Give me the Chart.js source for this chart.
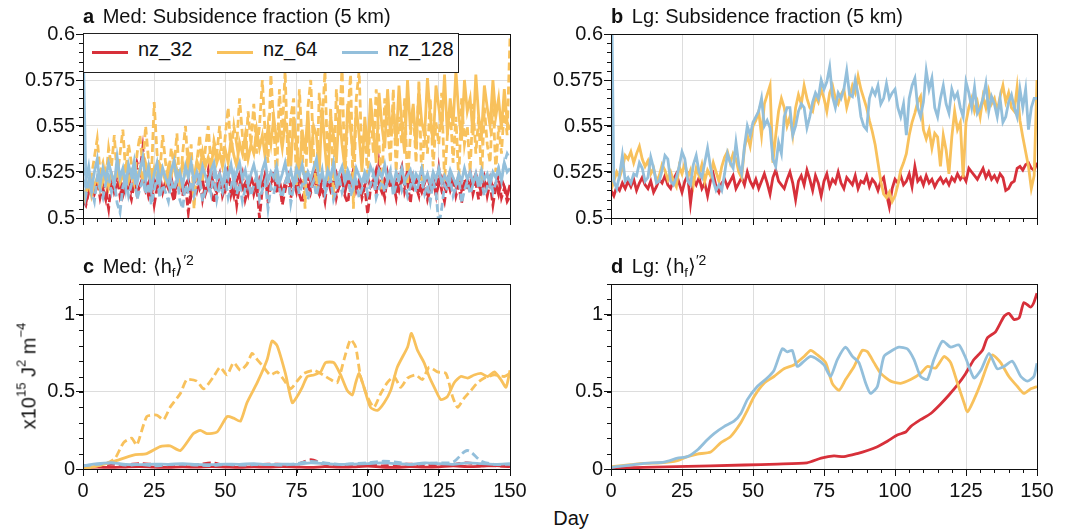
<!DOCTYPE html>
<html>
<head>
<meta charset="utf-8">
<title>Subsidence fraction and hf variance</title>
<script src="https://cdn.jsdelivr.net/npm/chart.js@4.4.1/dist/chart.umd.min.js"></script>
<style>
  body { margin: 0; background: #fff; }
  #fig {
    position: relative; width: 1088px; height: 530px; overflow: hidden;
    font-family: "Liberation Sans", Arial, Helvetica, sans-serif; color: #111;
  }
  #fig canvas { position: absolute; }
  .ttl { position: absolute; font-size: 20px; line-height: 20px; white-space: nowrap; }
  .ttl b { margin-right: 3px; }
  .sb { font-size: 13px; position: relative; top: 4px; }
  .sp { font-size: 14px; position: relative; top: -8px; }
  #legend {
    position: absolute; left: 83px; top: 33px; width: 374px; height: 38px;
    border: 1px solid #222; background: #fff; z-index: 2;
  }
  #legend .sw { position: absolute; top: 17px; width: 36px; height: 3px; }
  #legend .lb { position: absolute; top: 5px; font-size: 20px; line-height: 20px; }
  #ylab {
    position: absolute; left: 29px; top: 376px; font-size: 20px; white-space: nowrap;
    transform: translate(-50%, -50%) rotate(-90deg);
  }
  #ylab sup { font-size: 13px; position: relative; top: -2px; vertical-align: super; line-height: 0; }
  #xlab { position: absolute; left: 571px; top: 518px; font-size: 20px; transform: translate(-50%, -50%); }
</style>
</head>
<body>
<div id="fig">
  <canvas id="chartA" width="520" height="210" style="left:10px;top:21px"></canvas>
  <canvas id="chartB" width="519" height="210" style="left:538px;top:21px"></canvas>
  <canvas id="chartC" width="520" height="233" style="left:10px;top:271px"></canvas>
  <canvas id="chartD" width="519" height="233" style="left:538px;top:271px"></canvas>

  <div class="ttl" style="left:83px;top:6px"><b>a</b> Med: Subsidence fraction (5 km)</div>
  <div class="ttl" style="left:611px;top:6px"><b>b</b> Lg: Subsidence fraction (5 km)</div>
  <div class="ttl" style="left:83px;top:256px"><b>c</b> Med: ⟨h<span class="sb">f</span>⟩<span class="sp">′2</span></div>
  <div class="ttl" style="left:611px;top:256px"><b>d</b> Lg: ⟨h<span class="sb">f</span>⟩<span class="sp">′2</span></div>

  <div id="legend">
    <span class="sw" style="left:8px;background:#d7303a"></span><span class="lb" style="left:54px">nz_32</span>
    <span class="sw" style="left:133px;background:#f8c15c"></span><span class="lb" style="left:179px">nz_64</span>
    <span class="sw" style="left:258px;background:#93bfdb"></span><span class="lb" style="left:304px">nz_128</span>
  </div>

  <div id="ylab">x10<sup>15</sup> J<sup>2</sup> m<sup>−4</sup></div>
  <div id="xlab">Day</div>
</div>

<script>
/* ======================================
   COLOURS
====================================== */
const RED = "#d7303a";
const ORANGE = "#f8c15c";
const BLUE = "#93bfdb";


/* ======================================
   DATA  (panels a, b: one value per day, day 0..150)
====================================== */
const days = Array.from({ length: 151 }, (_, i) => i);

// a  Med: subsidence fraction, solid and dashed runs
const aRed32 = [
  0.512,0.508,0.515,0.52,0.513,0.518,0.522,0.516,0.51,0.519,
  0.523,0.514,0.518,0.521,0.512,0.517,0.524,0.515,0.52,0.513,
  0.518,0.522,0.515,0.519,0.512,0.521,0.517,0.523,0.514,0.52,
  0.516,0.522,0.513,0.519,0.524,0.515,0.518,0.521,0.512,0.519,
  0.523,0.516,0.52,0.513,0.518,0.525,0.517,0.514,0.521,0.518,
  0.515,0.522,0.518,0.512,0.52,0.524,0.516,0.519,0.513,0.522,
  0.518,0.514,0.521,0.517,0.524,0.515,0.519,0.522,0.516,0.52,
  0.513,0.519,0.523,0.517,0.52,0.514,0.522,0.518,0.521,0.516,
  0.52,0.524,0.517,0.513,0.521,0.518,0.522,0.515,0.519,0.524,
  0.517,0.52,0.514,0.521,0.518,0.524,0.516,0.52,0.513,0.518,
  0.522,0.517,0.52,0.526,0.518,0.514,0.521,0.519,0.523,0.516,
  0.52,0.515,0.522,0.518,0.526,0.519,0.516,0.521,0.518,0.514,
  0.519,0.523,0.516,0.52,0.513,0.518,0.522,0.517,0.521,0.515,
  0.52,0.517,0.523,0.515,0.519,0.521,0.516,0.52,0.524,0.518,
  0.514,0.52,0.517,0.522,0.516,0.519,0.513,0.521,0.517,0.512,
  0.518
];
const aRed32Dash = [
  0.51,0.507,0.514,0.519,0.516,0.521,0.511,0.518,0.514,0.505,
  0.52,0.516,0.523,0.512,0.518,0.521,0.515,0.51,0.519,0.53,
  0.525,0.538,0.52,0.512,0.518,0.507,0.516,0.522,0.513,0.519,
  0.527,0.515,0.509,0.52,0.524,0.512,0.518,0.503,0.516,0.522,
  0.515,0.523,0.51,0.518,0.526,0.514,0.508,0.519,0.524,0.512,
  0.517,0.529,0.513,0.52,0.507,0.518,0.524,0.51,0.516,0.522,
  0.513,0.519,0.5,0.516,0.523,0.509,0.518,0.526,0.513,0.52,
  0.507,0.515,0.522,0.511,0.519,0.525,0.513,0.508,0.518,0.523,
  0.514,0.52,0.527,0.512,0.517,0.509,0.522,0.516,0.525,0.511,
  0.518,0.523,0.512,0.508,0.519,0.526,0.515,0.52,0.511,0.517,
  0.502,0.516,0.521,0.513,0.53,0.518,0.511,0.524,0.516,0.519,
  0.511,0.523,0.528,0.514,0.519,0.508,0.522,0.517,0.512,0.525,
  0.518,0.51,0.516,0.522,0.513,0.527,0.515,0.509,0.52,0.516,
  0.523,0.512,0.518,0.508,0.521,0.515,0.525,0.513,0.519,0.51,
  0.516,0.522,0.512,0.519,0.507,0.517,0.523,0.511,0.516,0.509,
  0.512
];
const aOrg64 = [
  0.51,0.515,0.52,0.512,0.518,0.522,0.515,0.52,0.526,0.517,
  0.524,0.52,0.527,0.519,0.523,0.528,0.52,0.525,0.519,0.522,
  0.527,0.521,0.53,0.524,0.519,0.527,0.522,0.529,0.525,0.52,
  0.528,0.523,0.532,0.526,0.521,0.53,0.525,0.535,0.527,0.522,
  0.531,0.526,0.536,0.528,0.533,0.527,0.54,0.53,0.535,0.528,
  0.537,0.53,0.543,0.534,0.528,0.541,0.535,0.545,0.532,0.54,
  0.535,0.548,0.538,0.545,0.533,0.55,0.54,0.555,0.542,0.548,
  0.538,0.552,0.545,0.528,0.555,0.54,0.522,0.548,0.535,0.558,
  0.53,0.55,0.545,0.525,0.56,0.538,0.52,0.555,0.545,0.53,
  0.558,0.54,0.527,0.562,0.548,0.532,0.56,0.545,0.525,0.555,
  0.535,0.565,0.548,0.53,0.568,0.55,0.538,0.57,0.545,0.56,
  0.54,0.572,0.55,0.535,0.575,0.548,0.562,0.538,0.57,0.552,
  0.545,0.576,0.555,0.54,0.572,0.56,0.548,0.578,0.545,0.565,
  0.55,0.58,0.556,0.542,0.575,0.558,0.565,0.545,0.578,0.555,
  0.545,0.572,0.56,0.55,0.575,0.555,0.565,0.548,0.57,0.552,
  0.548
];
const aOrg64Dash = [
  0.508,0.513,0.518,0.523,0.533,0.543,0.525,0.53,0.52,0.538,
  0.528,0.545,0.522,0.535,0.548,0.525,0.54,0.53,0.52,0.535,
  0.545,0.528,0.55,0.532,0.52,0.563,0.535,0.525,0.545,0.53,
  0.52,0.538,0.528,0.546,0.515,0.535,0.55,0.525,0.54,0.505,
  0.53,0.545,0.52,0.538,0.55,0.527,0.542,0.535,0.55,0.528,
  0.545,0.56,0.535,0.55,0.54,0.565,0.545,0.53,0.558,0.54,
  0.562,0.535,0.55,0.575,0.545,0.53,0.578,0.55,0.52,0.57,
  0.545,0.58,0.528,0.555,0.565,0.518,0.57,0.54,0.505,0.56,
  0.575,0.535,0.515,0.568,0.55,0.58,0.525,0.56,0.51,0.57,
  0.545,0.583,0.52,0.555,0.578,0.505,0.565,0.58,0.53,0.55,
  0.52,0.56,0.535,0.57,0.54,0.515,0.565,0.55,0.53,0.57,
  0.525,0.555,0.54,0.565,0.518,0.545,0.56,0.53,0.575,0.52,
  0.55,0.535,0.565,0.528,0.552,0.54,0.568,0.52,0.545,0.56,
  0.53,0.555,0.52,0.565,0.54,0.55,0.525,0.562,0.535,0.555,
  0.52,0.56,0.54,0.53,0.565,0.525,0.55,0.535,0.56,0.545,
  0.598
];
const aBlue128 = [
  0.6,0.52,0.528,0.515,0.525,0.532,0.518,0.527,0.521,0.53,
  0.524,0.518,0.533,0.522,0.527,0.516,0.529,0.523,0.531,0.519,
  0.526,0.533,0.52,0.528,0.515,0.524,0.53,0.519,0.527,0.522,
  0.518,0.526,0.531,0.52,0.525,0.517,0.528,0.522,0.53,0.519,
  0.525,0.52,0.528,0.523,0.517,0.526,0.53,0.521,0.524,0.518,
  0.527,0.522,0.529,0.519,0.525,0.53,0.521,0.526,0.518,0.524,
  0.529,0.522,0.517,0.526,0.531,0.52,0.525,0.522,0.528,0.519,
  0.524,0.53,0.521,0.526,0.518,0.527,0.523,0.529,0.52,0.525,
  0.521,0.527,0.532,0.52,0.525,0.518,0.526,0.522,0.53,0.519,
  0.524,0.528,0.52,0.526,0.522,0.517,0.527,0.523,0.519,0.525,
  0.521,0.528,0.524,0.519,0.526,0.522,0.529,0.52,0.524,0.518,
  0.525,0.521,0.527,0.52,0.523,0.526,0.519,0.524,0.521,0.527,
  0.52,0.524,0.518,0.525,0.521,0.527,0.519,0.523,0.52,0.526,
  0.522,0.518,0.524,0.52,0.527,0.521,0.525,0.519,0.523,0.52,
  0.526,0.521,0.524,0.518,0.525,0.522,0.527,0.52,0.53,0.525,
  0.527
];
const aBlue128Dash = [
  0.56,0.512,0.52,0.515,0.509,0.522,0.516,0.511,0.519,0.523,
  0.514,0.52,0.508,0.503,0.517,0.522,0.512,0.518,0.525,0.51,
  0.516,0.521,0.513,0.519,0.507,0.515,0.522,0.511,0.518,0.514,
  0.509,0.52,0.515,0.523,0.51,0.505,0.518,0.513,0.52,0.512,
  0.517,0.522,0.509,0.515,0.52,0.513,0.524,0.51,0.518,0.514,
  0.522,0.511,0.517,0.524,0.513,0.519,0.509,0.516,0.521,0.512,
  0.518,0.523,0.51,0.515,0.52,0.505,0.517,0.513,0.521,0.516,
  0.511,0.519,0.524,0.508,0.517,0.521,0.513,0.518,0.522,0.51,
  0.516,0.52,0.512,0.519,0.526,0.513,0.518,0.521,0.51,0.515,
  0.522,0.514,0.519,0.525,0.512,0.517,0.52,0.511,0.516,0.521,
  0.513,0.518,0.524,0.511,0.516,0.52,0.514,0.521,0.526,0.512,
  0.518,0.522,0.515,0.52,0.512,0.517,0.523,0.514,0.519,0.521,
  0.513,0.518,0.509,0.52,0.514,0.496,0.505,0.518,0.515,0.521,
  0.512,0.517,0.522,0.508,0.515,0.52,0.513,0.518,0.524,0.516,
  0.52,0.512,0.517,0.522,0.514,0.519,0.527,0.522,0.53,0.535,
  0.532
];

// b  Lg: subsidence fraction
const bRed32 = [
  0.515,0.512,0.517,0.515,0.519,0.516,0.52,0.517,0.521,0.515,
  0.519,0.522,0.518,0.516,0.52,0.514,0.517,0.521,0.519,0.523,
  0.518,0.516,0.521,0.524,0.519,0.514,0.52,0.523,0.508,0.521,
  0.518,0.522,0.516,0.519,0.512,0.52,0.524,0.517,0.514,0.519,
  0.521,0.517,0.52,0.523,0.516,0.519,0.522,0.518,0.525,0.52,
  0.517,0.521,0.516,0.52,0.524,0.519,0.513,0.522,0.526,0.52,
  0.518,0.516,0.521,0.525,0.519,0.51,0.52,0.523,0.518,0.526,
  0.521,0.515,0.523,0.519,0.512,0.52,0.524,0.517,0.521,0.519,
  0.525,0.519,0.516,0.522,0.52,0.518,0.523,0.516,0.52,0.519,
  0.523,0.517,0.521,0.519,0.515,0.52,0.522,0.513,0.506,0.516,
  0.521,0.519,0.523,0.518,0.52,0.524,0.517,0.528,0.52,0.522,
  0.518,0.523,0.519,0.521,0.517,0.52,0.522,0.519,0.521,0.518,
  0.522,0.52,0.524,0.521,0.523,0.52,0.527,0.525,0.523,0.521,
  0.524,0.527,0.522,0.525,0.521,0.523,0.52,0.524,0.522,0.515,
  0.516,0.519,0.52,0.527,0.528,0.526,0.529,0.53,0.527,0.526,
  0.53
];
const bOrg64 = [
  0.515,0.52,0.525,0.522,0.527,0.534,0.532,0.536,0.53,0.535,
  0.539,0.532,0.528,0.531,0.524,0.527,0.52,0.523,0.529,0.526,
  0.521,0.525,0.52,0.517,0.528,0.524,0.53,0.522,0.526,0.518,
  0.527,0.523,0.529,0.52,0.526,0.523,0.53,0.525,0.52,0.528,
  0.533,0.536,0.53,0.535,0.532,0.525,0.522,0.538,0.545,0.539,
  0.55,0.553,0.558,0.545,0.562,0.567,0.572,0.53,0.545,0.558,
  0.565,0.56,0.55,0.555,0.545,0.56,0.567,0.562,0.572,0.565,
  0.56,0.558,0.566,0.563,0.57,0.565,0.558,0.568,0.572,0.565,
  0.562,0.567,0.57,0.56,0.566,0.572,0.568,0.577,0.57,0.565,
  0.56,0.553,0.547,0.54,0.53,0.52,0.513,0.511,0.514,0.509,
  0.512,0.518,0.526,0.53,0.535,0.545,0.552,0.557,0.563,0.566,
  0.548,0.543,0.548,0.538,0.546,0.544,0.528,0.545,0.537,0.524,
  0.544,0.558,0.548,0.552,0.522,0.552,0.56,0.565,0.558,0.563,
  0.555,0.566,0.56,0.569,0.562,0.565,0.558,0.566,0.572,0.563,
  0.568,0.56,0.558,0.571,0.553,0.544,0.536,0.528,0.516,0.523,
  0.575
];
const bBlue128 = [
  0.65,0.52,0.516,0.523,0.534,0.52,0.522,0.519,0.524,0.523,
  0.53,0.527,0.52,0.522,0.533,0.527,0.519,0.52,0.526,0.534,
  0.532,0.52,0.518,0.522,0.528,0.536,0.532,0.52,0.518,0.529,
  0.534,0.525,0.522,0.53,0.538,0.528,0.52,0.515,0.518,0.515,
  0.524,0.535,0.53,0.527,0.541,0.529,0.524,0.539,0.55,0.545,
  0.552,0.555,0.558,0.565,0.55,0.553,0.549,0.532,0.528,0.541,
  0.535,0.555,0.56,0.56,0.545,0.55,0.558,0.562,0.56,0.549,
  0.555,0.563,0.568,0.565,0.575,0.57,0.574,0.582,0.566,0.56,
  0.568,0.565,0.57,0.58,0.567,0.566,0.575,0.567,0.555,0.55,
  0.548,0.565,0.57,0.567,0.572,0.562,0.565,0.573,0.565,0.568,
  0.57,0.56,0.555,0.562,0.545,0.565,0.572,0.576,0.56,0.555,
  0.563,0.58,0.57,0.576,0.56,0.555,0.565,0.572,0.562,0.557,
  0.57,0.565,0.568,0.56,0.555,0.574,0.568,0.56,0.571,0.557,
  0.56,0.565,0.573,0.558,0.566,0.562,0.555,0.565,0.552,0.555,
  0.563,0.567,0.56,0.555,0.57,0.56,0.57,0.548,0.56,0.565,
  0.565
];


/* ======================================
   DATA  (panels c, d: <hf>'2, x10^15 J2 m-4)
====================================== */
const cDays5 = [0,5,10,15,20,25,30,35,40,45,50,55,60,65,70,75,80,85,90,95,100,105,110,115,120,125,130,135,140,145,150];
const cRed32     = [0.01,0.012,0.01,0.013,0.015,0.012,0.01,0.014,0.012,0.015,0.013,0.011,0.014,0.012,0.016,0.013,0.01,0.015,0.012,0.014,0.018,0.013,0.011,0.015,0.012,0.014,0.02,0.016,0.018,0.022,0.015];
const cRed32Dash = [0.02,0.025,0.03,0.028,0.035,0.03,0.026,0.03,0.028,0.04,0.025,0.03,0.027,0.032,0.03,0.029,0.06,0.03,0.028,0.025,0.03,0.02,0.028,0.032,0.025,0.03,0.03,0.04,0.025,0.02,0.018];
const cBlue128     = [0.02,0.035,0.04,0.03,0.028,0.032,0.03,0.035,0.03,0.028,0.032,0.03,0.035,0.028,0.032,0.03,0.04,0.035,0.03,0.032,0.035,0.04,0.035,0.03,0.04,0.035,0.03,0.04,0.035,0.03,0.035];
const cBlue128Dash = [0.02,0.03,0.04,0.025,0.03,0.02,0.028,0.03,0.025,0.022,0.03,0.025,0.028,0.03,0.025,0.035,0.05,0.04,0.03,0.035,0.04,0.05,0.045,0.03,0.035,0.04,0.045,0.12,0.05,0.03,0.03];

const cOrgDays = [0,5,10.7,17.7,22.4,27.1,30.6,34.2,38.8,41.2,43.5,47.1,50.6,52.9,55.3,57.6,61.2,64.7,66.4,68.2,71.1,73.5,75.2,77,78.8,81.1,83.5,85.2,88.1,90.5,92.8,94.6,95.8,97,98.7,101,103.4,105.8,108.1,110.4,114,115.4,117.5,119.8,121.6,123.4,125.7,128,130.4,132.7,135.1,137.4,139.8,142.1,144.5,146.8,148.6,150];
const cOrg64   = [0,0.02,0.048,0.09,0.1,0.145,0.15,0.12,0.23,0.25,0.23,0.24,0.34,0.33,0.31,0.43,0.56,0.71,0.83,0.8,0.62,0.43,0.47,0.53,0.6,0.61,0.63,0.69,0.69,0.61,0.51,0.48,0.56,0.62,0.53,0.4,0.38,0.43,0.51,0.66,0.79,0.88,0.77,0.69,0.6,0.53,0.45,0.47,0.56,0.6,0.59,0.61,0.62,0.6,0.63,0.58,0.53,0.64];

const cOrgDashDays = [0,5,8.3,11.3,14.2,17.1,18.9,22.4,25.9,28.3,30.6,34.2,36.5,40,42.4,45.9,48.2,50.6,52.9,55.3,57.6,59.4,61.2,63.5,65.8,68.2,70.5,72.9,75.2,77.6,81.1,83.5,87,89.3,91.7,94,95.8,97.5,99.9,102.2,104.6,106.9,109.3,111.6,114,116.9,119.2,121.6,124.5,127.5,129.8,131.6,133.9,136.3,138.6,141,144.5,148,150];
const cOrg64Dash   = [0,0.02,0.037,0.07,0.17,0.2,0.155,0.34,0.35,0.32,0.4,0.49,0.58,0.57,0.52,0.6,0.66,0.61,0.69,0.64,0.68,0.75,0.71,0.66,0.61,0.63,0.58,0.52,0.57,0.62,0.64,0.62,0.58,0.56,0.71,0.84,0.79,0.6,0.47,0.4,0.49,0.56,0.6,0.53,0.59,0.61,0.58,0.66,0.63,0.62,0.47,0.4,0.46,0.51,0.56,0.59,0.61,0.6,0.62];

const dRedDays = [0,23,47,58.6,69,74,78.5,82,86.7,90.3,93.8,97.3,100.8,103.8,105.5,109,112.6,116,119,122,124.9,127.8,130.8,132.5,135.4,138.4,140.1,141.9,143.7,145.4,147.8,148.9,150];
const dRed32   = [0.005,0.015,0.026,0.032,0.04,0.07,0.085,0.08,0.1,0.12,0.145,0.18,0.22,0.24,0.275,0.32,0.36,0.42,0.48,0.545,0.62,0.71,0.77,0.85,0.89,0.99,1.01,0.97,0.98,1.08,1.05,1.08,1.14];

const dOrgDays = [0,11.6,17.5,23.4,26.9,30.4,35.1,38.6,42.1,45.7,48,50.4,53.9,57.4,60.9,64.4,68,70.3,72.7,75.6,77.9,80.3,82.6,85.6,88.5,90.3,92.6,95,98.5,102,105.5,109,111.4,114.3,117.3,119.6,122,124.3,125.5,127.8,130.2,132.5,134.3,137.2,140.1,143.1,145.4,147.8,150];
const dOrg64   = [0.015,0.037,0.04,0.054,0.08,0.097,0.11,0.17,0.21,0.3,0.38,0.47,0.556,0.6,0.65,0.675,0.73,0.77,0.74,0.69,0.556,0.51,0.58,0.665,0.77,0.76,0.69,0.62,0.57,0.556,0.58,0.62,0.665,0.655,0.73,0.69,0.556,0.43,0.37,0.45,0.556,0.675,0.74,0.69,0.6,0.535,0.49,0.52,0.535];

const dBlueDays = [0,11.6,18.7,23.4,26.9,30.4,33.9,36.3,39.8,43.3,45.7,48,51.5,55,57.4,60.3,62.1,63.8,65.6,68,70.3,72.7,75,77.3,79.7,82.6,85,87.3,89.7,91.4,93.8,96.1,99.1,101.4,104.3,106.7,109,111.4,113.7,116.7,119.6,122.5,124.9,127.8,130.2,133.1,136,138.4,141.3,144.3,146.6,148.9,150];
const dBlue128  = [0.01,0.037,0.045,0.07,0.08,0.123,0.19,0.23,0.275,0.31,0.36,0.45,0.535,0.59,0.64,0.78,0.76,0.77,0.665,0.7,0.73,0.71,0.675,0.6,0.71,0.79,0.73,0.69,0.556,0.49,0.535,0.73,0.77,0.79,0.78,0.71,0.6,0.58,0.71,0.83,0.79,0.805,0.72,0.59,0.64,0.75,0.65,0.665,0.7,0.6,0.57,0.6,0.686];


/* ======================================
   DEFAULTS
====================================== */
Chart.defaults.font.family = '"Liberation Sans", Arial, Helvetica, sans-serif';
Chart.defaults.font.size = 20;
Chart.defaults.color = "#111";

const GRID = { color: "#dddddd", lineWidth: 1, tickColor: "#111", tickLength: 7, drawTicks: true };
const BORDER = { display: true, color: "#111", width: 1 };


/* ======================================
   FRAME + MINOR TICKS
====================================== */
const framePlugin = {
  id: "frame",
  afterDraw(chart, args, opts) {
    const { ctx, chartArea: a, scales } = chart;
    const xs = scales.x, ys = scales.y;
    ctx.save();
    ctx.strokeStyle = "#111";
    ctx.lineWidth = 1;
    ctx.beginPath();
    for (let v = xs.min; v <= xs.max + 1e-9; v += opts.xMinor) {
      const p = Math.round(xs.getPixelForValue(v)) + 0.5;
      ctx.moveTo(p, a.bottom);
      ctx.lineTo(p, a.bottom + 4);
    }
    for (let v = ys.min; v <= ys.max + 1e-9; v += opts.yMinor) {
      const p = Math.round(ys.getPixelForValue(v)) + 0.5;
      ctx.moveTo(a.left - 4, p);
      ctx.lineTo(a.left, p);
    }
    ctx.stroke();
    ctx.strokeRect(Math.round(a.left) + 0.5, Math.round(a.top) + 0.5,
                   Math.round(a.right - a.left), Math.round(a.bottom - a.top));
    ctx.restore();
  }
};


/* ======================================
   HELPERS
====================================== */
function series(xs, ys, color, dashed, tension) {
  return {
    data: xs.map((x, i) => ({ x, y: ys[i] })),
    borderColor: color,
    borderWidth: 2.8,
    borderDash: dashed ? [8, 4] : [],
    pointRadius: 0,
    fill: false,
    tension: tension || 0
  };
}

function buildChart(id, datasets, y, showX) {
  return new Chart(document.getElementById(id), {
    type: "line",
    data: { datasets },
    options: {
      responsive: false,
      animation: false,
      devicePixelRatio: 1,
      events: [],
      layout: { padding: { top: 12, right: 20, bottom: 0, left: 0 } },
      plugins: {
        legend: { display: false },
        tooltip: { enabled: false },
        frame: { xMinor: 5, yMinor: y.minor }
      },
      scales: {
        x: {
          type: "linear", min: 0, max: 150,
          ticks: { stepSize: 25, display: showX, padding: 3, maxRotation: 0, autoSkip: false },
          grid: GRID, border: BORDER,
          afterFit: s => { s.height = showX ? 35 : 12; }
        },
        y: {
          type: "linear", min: y.min, max: y.max,
          ticks: { stepSize: y.step, includeBounds: false, padding: 1,
                   callback: v => String(+Number(v).toFixed(3)) },
          grid: GRID, border: BORDER,
          afterFit: s => { s.width = 73; }
        }
      }
    },
    plugins: [framePlugin]
  });
}


/* ======================================
   PANELS
====================================== */
const fracAxis = { min: 0.5, max: 0.6, step: 0.025, minor: 0.005 };
const hfAxis = { min: 0, max: 1.2, step: 0.5, minor: 0.1 };

// first dataset is drawn on top
buildChart("chartA", [
  series(days, aBlue128, BLUE, false),
  series(days, aBlue128Dash, BLUE, true),
  series(days, aOrg64, ORANGE, false),
  series(days, aOrg64Dash, ORANGE, true),
  series(days, aRed32, RED, false),
  series(days, aRed32Dash, RED, true)
], fracAxis, false);

buildChart("chartB", [
  series(days, bBlue128, BLUE, false),
  series(days, bOrg64, ORANGE, false),
  series(days, bRed32, RED, false)
], fracAxis, false);

buildChart("chartC", [
  series(cDays5, cBlue128, BLUE, false, 0.3),
  series(cDays5, cBlue128Dash, BLUE, true, 0.3),
  series(cOrgDays, cOrg64, ORANGE, false, 0.2),
  series(cOrgDashDays, cOrg64Dash, ORANGE, true, 0.2),
  series(cDays5, cRed32, RED, false, 0.3),
  series(cDays5, cRed32Dash, RED, true, 0.3)
], hfAxis, true);

buildChart("chartD", [
  series(dBlueDays, dBlue128, BLUE, false, 0.2),
  series(dOrgDays, dOrg64, ORANGE, false, 0.2),
  series(dRedDays, dRed32, RED, false, 0.2)
], hfAxis, true);
</script>
</body>
</html>
